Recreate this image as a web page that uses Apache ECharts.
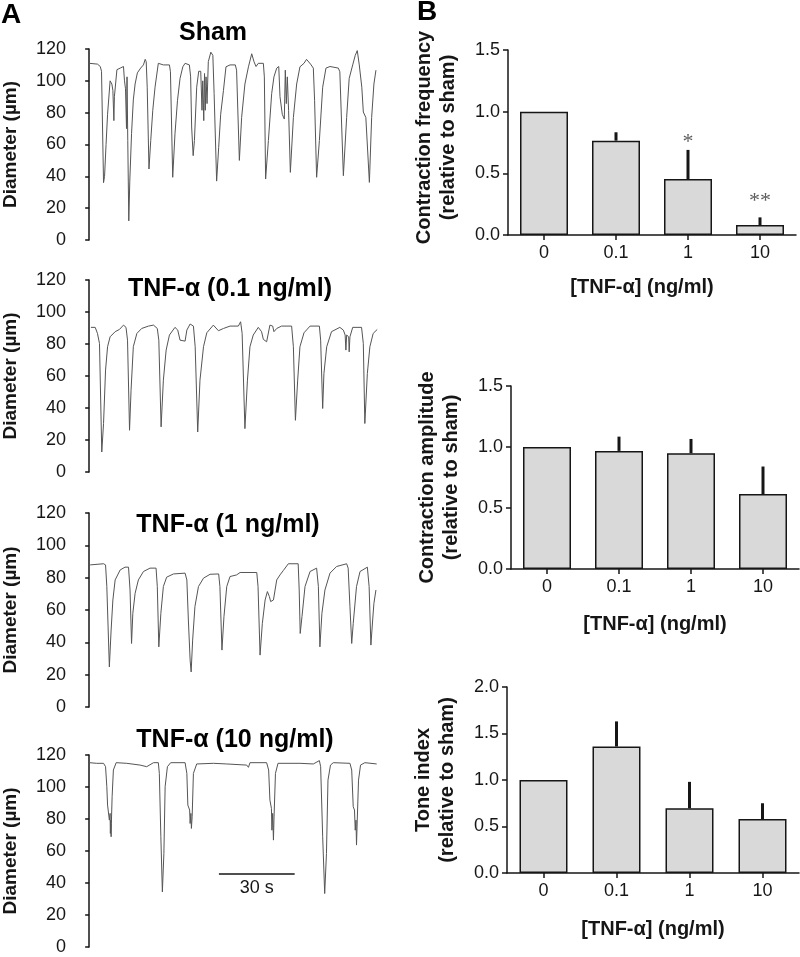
<!DOCTYPE html>
<html><head><meta charset="utf-8">
<script src="https://cdn.jsdelivr.net/npm/echarts@6/dist/echarts.min.js"></script>
<style>html,body{margin:0;padding:0;background:#fff}#c{width:800px;height:957px}</style>
</head><body><div id="c"></div>
<script>
// ---- Panel A: diameter traces, [time (s), diameter (µm)] ----
const shamTrace = [[0.1,111],[3.3,110.5],[4.4,109],[4.9,106],[5.7,36],[6.1,40],[6.7,60],[7.3,79],[7.9,80],[8.3,100],
[9.0,98],[9.4,94],[9.8,75],[10.0,90],[10.4,91],[11.0,107],[12.3,108],[13.6,109],[14.0,100],[14.4,95],
[14.8,70],[15.0,102.5],[15.3,62.5],[15.7,12],[16.1,37],[16.8,67],[17.5,88],[18.2,98],[19.1,105],[20.4,108],
[21.5,110],[22.2,113.5],[22.6,112],[23.0,96],[23.7,44.6],[24.4,62.5],[25.2,81.5],[26.1,96],[27.4,111],[28.1,111.5],
[29.4,110],[31.8,110],[32.2,105.7],[33.1,39.4],[34.0,66.7],[35.0,87.8],[36.0,101.5],[37.1,108.8],[38.0,111],[39.7,110],
[40.2,102.5],[40.6,71],[41.2,53],[41.7,62.5],[42.6,96],[43.4,106],[44.2,106],[44.7,81.5],[45.0,100],[45.4,75],
[45.7,104.6],[46.0,81.5],[46.3,102.5],[46.7,85.7],[47.2,112],[48.2,118],[49.0,116],[49.5,92],[50.5,37],[51.3,58],
[52.1,79],[53.2,94],[54.2,108.8],[55.8,110],[57.9,110],[58.4,106.7],[59.5,50],[60.4,77],[61.7,98],[63.1,108.8],
[64.4,117],[65.3,112],[66.1,109],[67.0,111],[69.0,111],[69.4,102.5],[69.9,38.3],[71.0,62.5],[72.3,92],[73.2,102.5],
[74.3,108],[75.1,109],[75.6,90],[76.5,79],[77.3,76],[77.7,106.7],[78.1,85.7],[78.5,102.5],[79.0,81.5],[79.7,42.5],
[80.9,77],[82.2,98],[83.5,108.8],[85.1,111],[86.1,113.5],[87.7,110.5],[88.8,108],[89.3,87.8],[90.1,39.4],[91.2,62.5],
[92.5,96],[93.8,108],[95.4,109],[98.7,108],[99.3,105.7],[100.7,40.4],[102.0,77],[103.0,101.5],[104.4,110],[105.4,116],
[106.2,119],[107.0,110],[108.0,96],[108.6,80.4],[109.6,77],[111.0,36.2],[111.9,77],[112.8,98],[113.6,106.7]];

const tnf01Trace = [[0.7,90.4],[2.4,90.4],[3.3,86.6],[4.1,80.3],[5.0,12.5],[5.7,30.3],[6.5,63.7],[7.3,78.3],[8.3,84.5],[10.3,87.7],
[12.0,89.1],[13.6,91.8],[14.6,90.4],[15.2,82.4],[16.0,26.1],[16.6,51.1],[17.5,78.3],[18.9,86.6],[20.8,89.7],[23.5,91.2],
[25.5,91.8],[27.0,89.7],[27.6,82.4],[28.5,28.2],[29.4,57.4],[30.5,76.2],[31.8,85.6],[34.0,90.4],[35.1,88.7],[36.0,82.4],
[38.0,81.8],[38.7,88.7],[40.0,92.5],[41.3,91.2],[42.0,78.3],[43.0,25.0],[43.9,57.4],[45.3,78.3],[46.6,87.0],[49.2,91.8],
[51.2,88.3],[53.2,89.7],[55.8,91.2],[59.1,91.2],[60.0,93.9],[60.6,86.6],[61.7,27.1],[62.7,57.4],[63.7,78.3],[65.0,85.6],
[67.0,90.4],[68.3,87.7],[69.0,82.9],[70.3,81.4],[71.0,82.4],[71.6,91.8],[72.7,91.2],[73.2,87.7],[74.3,89.7],[76.2,91.2],
[80.2,91.2],[80.9,78.3],[81.7,32.3],[82.6,57.4],[83.5,78.3],[85.1,87.0],[87.5,91.2],[91.2,91.2],[91.7,82.4],[92.5,39.7],
[93.0,61.6],[94.1,78.3],[96.0,87.7],[99.3,90.4],[100.7,88.7],[101.4,85.6],[101.7,76.2],[102.0,85.6],[102.8,84.5],[103.0,75.1],
[103.3,84.5],[104.4,90.4],[107.9,90.4],[108.6,80.3],[109.2,30.3],[110.2,61.6],[111.2,78.3],[112.5,86.6],[114.1,89.1]];

const tnf1Trace = [[0.4,87.9],[5.7,88.6],[6.5,87.9],[7.0,74.5],[8.0,24.8],[8.7,47.6],[9.4,66.2],[10.3,78.6],[12.3,84.8],[14.2,86.5],
[15.6,86.5],[16.2,72.4],[16.8,39.3],[17.3,57.9],[18.2,70.3],[19.5,78.6],[21.5,83.8],[24.1,85.9],[26.5,85.9],[27.0,74.5],
[27.6,37.2],[28.4,57.9],[29.4,74.5],[30.7,80.3],[33.4,82.3],[38.0,82.8],[38.7,78.6],[39.3,53.8],[40.0,29.0],[40.4,21.7],
[41.0,41.4],[41.9,62.1],[43.3,74.5],[45.3,79.7],[47.9,82.1],[51.3,82.3],[51.8,74.5],[52.6,35.2],[53.4,55.9],[54.5,74.5],
[55.8,80.7],[58.4,81.7],[59.8,83.2],[66.4,83.2],[66.9,74.5],[67.7,32.1],[68.6,51.7],[69.7,66.2],[70.6,71.4],[71.4,68.3],
[71.9,65.2],[73.0,66.2],[74.3,78.6],[75.6,81.7],[76.9,84.4],[78.9,88.6],[82.8,88.6],[83.2,72.4],[83.6,45.5],[84.3,55.9],
[85.5,74.5],[87.5,83.8],[90.1,85.9],[90.8,74.5],[91.4,37.2],[92.2,57.9],[93.4,72.4],[95.4,82.8],[98.0,86.9],[102.0,88.6],
[102.6,85.9],[103.3,62.1],[104.0,39.3],[104.6,51.7],[105.9,74.5],[107.3,83.8],[110.2,86.5],[110.9,74.5],[111.6,38.3],[112.3,53.8],
[112.8,64.1],[113.6,72.4]];

const tnf10Trace = [[0.1,115.2],[3.0,114.8],[5.7,114.8],[6.5,112.7],[7.0,100.2],[7.3,88.7],[7.8,87.7],[8.0,79.3],[8.3,83.5],[8.4,71.0],
[8.6,79.3],[8.7,68.9],[8.8,77.3],[9.1,93.9],[9.6,110.6],[10.7,115.2],[14.9,114.8],[20.2,113.7],[22.8,112.7],[25.5,115.2],
[27.4,115.2],[27.8,108.5],[28.4,68.9],[29.0,34.4],[29.6,58.4],[30.1,100.2],[31.0,112.7],[32.3,115.2],[38.0,115.2],[38.7,108.5],
[39.1,88.7],[39.8,85.6],[40.0,77.2],[40.3,83.5],[40.5,74.1],[40.8,81.4],[41.3,108.5],[42.6,114.4],[49.2,114.8],[54.5,114.4],
[62.4,113.7],[63.1,112.3],[63.7,115.2],[70.3,115.2],[71.1,110.6],[71.6,91.8],[72.2,86.6],[72.4,73.0],[72.7,83.5],[73.0,66.8],
[73.2,79.3],[73.8,108.5],[74.8,114.8],[83.5,114.8],[88.8,114.4],[91.2,116.5],[91.7,112.7],[92.5,68.9],[93.3,33.4],[94.0,58.4],
[94.6,104.3],[95.6,113.7],[96.7,115.2],[103.3,114.8],[104.0,110.6],[104.6,87.7],[105.1,85.6],[105.4,73.0],[105.7,79.3],[105.9,63.7],
[106.2,79.3],[106.7,104.3],[107.5,113.7],[109.2,115.2],[113.9,114.4]];

const traceTitles = ['Sham', 'TNF-\u03b1 (0.1 ng/ml)', 'TNF-\u03b1 (1 ng/ml)', 'TNF-\u03b1 (10 ng/ml)'];
const scaleBar = {start: 51.4, seconds: 30, level: 45.6, label: '30 s'};

// ---- Panel B: bar data (relative to sham), mean and upper SEM ----
const doses = ['0', '0.1', '1', '10'];
const freqMean = [1.0, 0.765, 0.454, 0.081];
const freqErr  = [0, 0.068, 0.236, 0.062];
const freqSig  = ['', '', '*', '**'];
const freqSigLevel = [null, null, 0.75, 0.27];
const ampMean  = [1.0, 0.968, 0.949, 0.614];
const ampErr   = [0, 0.117, 0.117, 0.226];
const toneMean = [1.0, 1.36, 0.695, 0.58];
const toneErr  = [0, 0.27, 0.285, 0.17];

const FONT = 'Liberation Sans, Arial, Helvetica, sans-serif';
const INK = '#161616';

const chart = echarts.init(document.getElementById('c'), null, {renderer: 'canvas'});

const traceGrids = [
  {left: 74, top: 49, width: 308, height: 191},
  {left: 74, top: 280, width: 308, height: 192},
  {left: 74, top: 513, width: 308, height: 194},
  {left: 74, top: 755, width: 308, height: 192}
];
const barGrids = [
  {left: 508, top: 50, width: 288, height: 185},
  {left: 511, top: 386, width: 288, height: 183},
  {left: 507, top: 687, width: 292, height: 186}
];

const grid = traceGrids.concat(barGrids);
const xAxis = [], yAxis = [], series = [];

const traces = [shamTrace, tnf01Trace, tnf1Trace, tnf10Trace];
traces.forEach((tr, i) => {
  xAxis.push({type: 'value', gridIndex: i, min: -6, max: 116, show: false});
  yAxis.push({
    type: 'value', gridIndex: i, min: 0, max: 120, interval: 20,
    name: 'Diameter (\u00b5m)', nameLocation: 'middle', nameGap: 54,
    nameTextStyle: {fontSize: 19, fontWeight: 'bold', color: INK, fontFamily: FONT},
    axisLine: {show: true, lineStyle: {color: INK, width: 1.5}},
    axisTick: {show: true, length: 4, lineStyle: {color: INK, width: 1.5}},
    axisLabel: {fontSize: 18, color: INK, margin: 8, fontFamily: FONT},
    splitLine: {show: false}
  });
  const s = {
    type: 'line', xAxisIndex: i, yAxisIndex: i, data: tr, showSymbol: false,
    lineStyle: {color: '#555', width: 1}, silent: true
  };
  if (i === 3) {
    s.markLine = {
      symbol: ['none', 'none'], silent: true,
      lineStyle: {color: INK, width: 1.5, type: 'solid'},
      label: {show: true, position: 'insideMiddleBottom', formatter: scaleBar.label, fontSize: 18, color: INK, fontFamily: FONT, distance: 5},
      data: [[{coord: [scaleBar.start, scaleBar.level]}, {coord: [scaleBar.start + scaleBar.seconds, scaleBar.level]}]]
    };
  }
  series.push(s);
});

const barSets = [
  {mean: freqMean, err: freqErr, max: 1.5, name: 'Contraction frequency\n(relative to sham)', namePad: [0, 0, 0, 10], xPad: [0, 20, 0, 0], xGap: 42, sig: freqSig, sigLevel: freqSigLevel},
  {mean: ampMean, err: ampErr, max: 1.5, name: 'Contraction amplitude\n(relative to sham)', namePad: [0, 0, 0, 0], xPad: [0, 0, 0, 0], xGap: 45},
  {mean: toneMean, err: toneErr, max: 2.0, name: 'Tone index\n(relative to sham)', namePad: [0, 0, 0, 0], xPad: [0, 0, 0, 0], xGap: 46}
];

barSets.forEach((b, k) => {
  const gi = 4 + k;
  xAxis.push({
    type: 'category', gridIndex: gi, data: doses,
    name: '[TNF-\u03b1] (ng/ml)', nameLocation: 'middle', nameGap: b.xGap,
    nameTextStyle: {fontSize: 20, fontWeight: 'bold', color: INK, fontFamily: FONT, padding: b.xPad},
    axisLine: {show: true, lineStyle: {color: INK, width: 1.5}},
    axisTick: {show: true, alignWithLabel: true, length: 5, lineStyle: {color: INK, width: 1.5}},
    axisLabel: {fontSize: 18, color: INK, margin: 9, fontFamily: FONT}
  });
  yAxis.push({
    type: 'value', gridIndex: gi, min: 0, max: b.max, interval: 0.5,
    name: b.name, nameLocation: 'middle', nameGap: 48,
    nameTextStyle: {fontSize: 20, fontWeight: 'bold', color: INK, fontFamily: FONT, lineHeight: 24, padding: b.namePad},
    axisLine: {show: true, lineStyle: {color: INK, width: 1.5}},
    axisTick: {show: true, length: 5, lineStyle: {color: INK, width: 1.5}},
    axisLabel: {fontSize: 18, color: INK, margin: 8, fontFamily: FONT, formatter: v => v.toFixed(1)},
    splitLine: {show: false}
  });
  series.push({
    type: 'bar', xAxisIndex: gi, yAxisIndex: gi, data: b.mean, barWidth: 48,
    itemStyle: {color: '#d9d9d9', borderColor: INK, borderWidth: 1.5}, silent: true
  });
  series.push({
    type: 'custom', xAxisIndex: gi, yAxisIndex: gi, z: 5, silent: true,
    data: b.mean.map((m, i) => [i, m, m + b.err[i]]),
    renderItem: (params, api) => {
      const p0 = api.coord([api.value(0), api.value(1)]);
      const p1 = api.coord([api.value(0), api.value(2)]);
      if (Math.abs(p1[1] - p0[1]) < 0.5) return null;
      return {type: 'line', shape: {x1: p0[0], y1: p0[1], x2: p1[0], y2: p1[1]}, style: {stroke: INK, lineWidth: 3}};
    }
  });
  if (b.sig) {
    series.push({
      type: 'scatter', xAxisIndex: gi, yAxisIndex: gi, symbolSize: 0, silent: true,
      data: b.sig.map((s, i) => s ? {value: [i, b.sigLevel[i]], sigText: s} : null).filter(d => d),
      label: {show: true, position: 'inside', formatter: p => p.data.sigText, fontSize: 22, color: '#333', fontFamily: 'Liberation Serif, Times New Roman, serif'}
    });
  }
});

const graphic = [
  {type: 'text', x: 11, y: 15, style: {text: 'A', font: 'bold 28px ' + FONT, fill: '#000', textAlign: 'center', textVerticalAlign: 'middle'}},
  {type: 'text', x: 427, y: 12, style: {text: 'B', font: 'bold 28px ' + FONT, fill: '#000', textAlign: 'center', textVerticalAlign: 'middle'}}
];
const titlePos = [[213, 33], [230, 289], [228, 525], [235, 740]];
traceTitles.forEach((t, i) => {
  graphic.push({type: 'text', x: titlePos[i][0], y: titlePos[i][1],
    style: {text: t, font: 'bold 25px ' + FONT, fill: '#000', textAlign: 'center', textVerticalAlign: 'middle'}});
});

chart.setOption({
  animation: false,
  backgroundColor: '#fff',
  textStyle: {fontFamily: FONT},
  grid, xAxis, yAxis, series, graphic
});
</script></body></html>
